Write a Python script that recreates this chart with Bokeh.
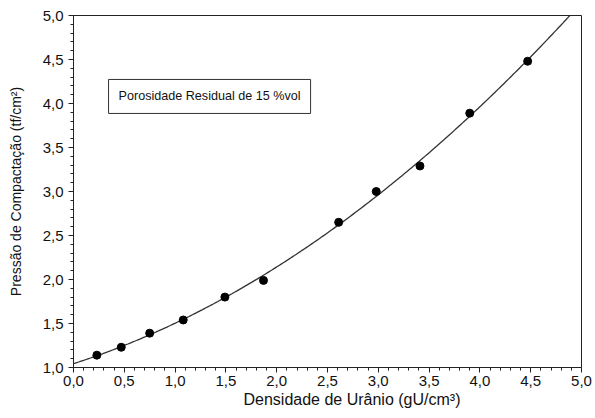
import numpy as np
from bokeh.plotting import figure
from bokeh.models import Range1d, FixedTicker, CustomJSTickFormatter, Label, Title
from bokeh.embed import file_html
from bokeh.resources import INLINE

# Measured compaction pressure vs. uranium density (15 %vol residual porosity)
densidade = [0.23, 0.47, 0.75, 1.08, 1.49, 1.87, 2.61, 2.98, 3.41, 3.90, 4.47]
pressao = [1.14, 1.23, 1.39, 1.54, 1.80, 1.99, 2.65, 3.00, 3.29, 3.89, 4.48]

x_ticks = [0.0, 0.5, 1.0, 1.5, 2.0, 2.5, 3.0, 3.5, 4.0, 4.5, 5.0]
y_ticks = [1.0, 1.5, 2.0, 2.5, 3.0, 3.5, 4.0, 4.5, 5.0]
x_minor = [round(i * 0.1, 1) for i in range(0, 51)]
y_minor = [round(1.0 + i * 0.1, 1) for i in range(0, 41)]

x_title = "Densidade de Urânio (gU/cm³)"
y_title = "Pressão de Compactação (tf/cm²)"
note = "Porosidade Residual de 15 %vol"

FONT = "Liberation Sans"
INK = "#111111"

# second-order polynomial fit through the measured points
coef = np.polyfit(densidade, pressao, 2)
x_fit = np.linspace(0.0, 5.0, 300)
y_fit = np.polyval(coef, x_fit)

p = figure(
    width=595, height=418,
    x_range=Range1d(0, 5), y_range=Range1d(1, 5),
    output_backend="svg", toolbar_location=None,
    min_border_left=73, min_border_right=14,
    min_border_top=15, min_border_bottom=51,
    background_fill_color="white", border_fill_color="white",
)
p.grid.visible = False
p.outline_line_color = "#222222"
p.outline_line_width = 1

p.line(x_fit, y_fit, line_color="#333333", line_width=1.3)
p.scatter(densidade, pressao, size=8, fill_color="black", line_color="black")

fmt = CustomJSTickFormatter(code="return tick.toFixed(1).replace('.', ',');")

for ax, ticks, minor in ((p.xaxis[0], x_ticks, x_minor), (p.yaxis[0], y_ticks, y_minor)):
    ax.ticker = FixedTicker(ticks=ticks, minor_ticks=minor)
    ax.formatter = fmt
    ax.major_label_text_font = FONT
    ax.major_label_text_font_size = "15px"
    ax.major_label_text_color = INK
    ax.axis_line_color = "#222222"
    ax.major_tick_line_color = "#222222"
    ax.minor_tick_line_color = "#222222"
    ax.major_tick_in = 0
    ax.major_tick_out = 5
    ax.minor_tick_in = 0
    ax.minor_tick_out = 3

p.xaxis.major_label_standoff = 3
p.yaxis.major_label_standoff = 5

# vertical axis title
p.yaxis.axis_label = y_title
p.yaxis.axis_label_text_font = FONT
p.yaxis.axis_label_text_font_style = "normal"
p.yaxis.axis_label_text_font_size = "14px"
p.yaxis.axis_label_text_color = INK
p.yaxis.axis_label_standoff = 16

# horizontal axis title, set slightly right of the frame centre
p.add_layout(Title(
    text=x_title, align="left", offset=170,
    text_font=FONT, text_font_size="16px", text_font_style="normal",
    text_color=INK, standoff=0,
), "below")

# boxed note inside the plot area
p.add_layout(Label(
    x=0.345, y=4.08, text=note,
    text_font=FONT, text_font_size="12.6px", text_color=INK,
    text_baseline="middle", text_align="left",
    border_line_color="#333333", border_line_width=1,
    background_fill_color="white", padding=10,
))

open("out.html", "w").write(file_html(p, INLINE))
